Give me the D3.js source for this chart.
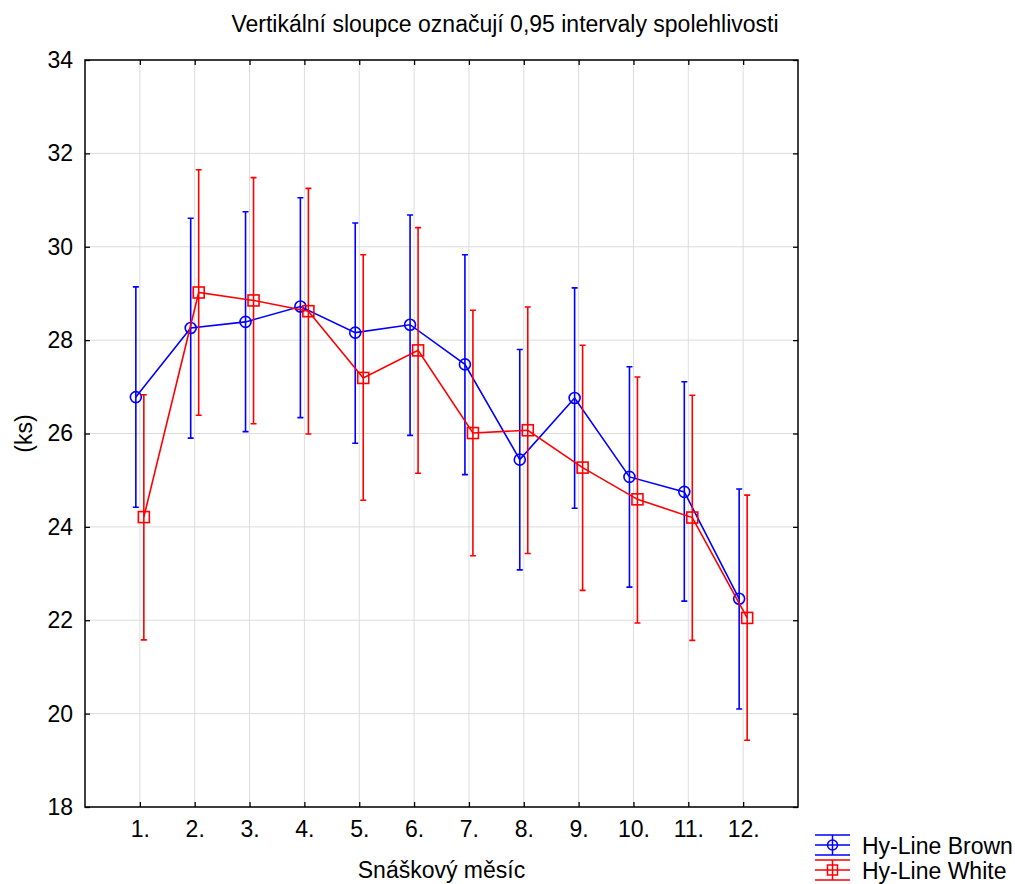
<!DOCTYPE html>
<html>
<head>
<meta charset="utf-8">
<script src="https://cdn.jsdelivr.net/npm/d3@7"></script>
<style>
    body { margin: 0; background: #fff; }
    text { font-family: "Liberation Sans", Arial, sans-serif; fill: #000; }
    .grid line { stroke: #dcdcdc; stroke-width: 1; }
</style>
</head>
<body>
<script>
// data
var months = ["1.", "2.", "3.", "4.", "5.", "6.", "7.", "8.", "9.", "10.", "11.", "12."];
var yTicks = [18, 20, 22, 24, 26, 28, 30, 32, 34];

var brownMean = [26.78, 28.26, 28.39, 28.72, 28.16, 28.33, 27.48, 25.44, 26.76, 25.07, 24.75, 22.46];
var brownLow  = [24.42, 25.90, 26.04, 26.34, 25.79, 25.96, 25.12, 23.08, 24.40, 22.71, 22.41, 20.10];
var brownHigh = [29.14, 30.61, 30.75, 31.05, 30.51, 30.68, 29.83, 27.80, 29.12, 27.43, 27.11, 24.81];

var whiteMean = [24.21, 29.02, 28.85, 28.62, 27.19, 27.78, 26.01, 26.07, 25.27, 24.59, 24.20, 22.05];
var whiteLow  = [21.58, 26.39, 26.21, 25.99, 24.57, 25.15, 23.38, 23.43, 22.64, 21.94, 21.57, 19.43];
var whiteHigh = [26.83, 31.65, 31.48, 31.25, 29.83, 30.41, 28.64, 28.71, 27.89, 27.21, 26.82, 24.68];

var seriesNames = ["Hy-Line Brown", "Hy-Line White"];

var width = 1015;
var height = 884;
// plot frame (not "top": that name is taken by window.top)
var pLeft = 85, pRight = 798, pTop = 60, pBottom = 807;
var fontSize = 23;

var svg = d3.select("body").append("svg")
    .attr("width", width)
    .attr("height", height);

var x = d3.scalePoint().domain(months).range([pLeft, pRight]).padding(1);
var y = d3.scaleLinear().domain([18, 34]).range([pBottom, pTop]);

//grid
var grid = svg.append("g").classed("grid", true);
grid.selectAll(".gx").data(months).enter().append("line")
    .attr("x1", function(d) { return x(d); })
    .attr("x2", function(d) { return x(d); })
    .attr("y1", pTop).attr("y2", pBottom);
grid.selectAll(".gy").data(yTicks).enter().append("line")
    .attr("x1", pLeft).attr("x2", pRight)
    .attr("y1", function(d) { return y(d); })
    .attr("y2", function(d) { return y(d); });

//axes, ticks pointing inward on all four sides
var axisStyle = function(g) {
    g.select(".domain").remove();
    g.selectAll("line").attr("stroke", "#000").attr("stroke-width", 1.3);
    g.selectAll("text").style("font-size", fontSize + "px")
        .style("font-family", "'Liberation Sans', Arial, sans-serif");
};

svg.append("g")
    .attr("transform", "translate(0," + pBottom + ")")
    .call(d3.axisBottom(x).tickSizeInner(-5).tickSizeOuter(0).tickPadding(14))
    .call(axisStyle);

svg.append("g")
    .attr("transform", "translate(0," + pTop + ")")
    .call(d3.axisTop(x).tickSizeInner(-5).tickSizeOuter(0).tickFormat(""))
    .call(axisStyle);

svg.append("g")
    .attr("transform", "translate(" + pLeft + ",0)")
    .call(d3.axisLeft(y).tickValues(yTicks).tickSizeInner(-5).tickSizeOuter(0).tickPadding(12))
    .call(axisStyle);

svg.append("g")
    .attr("transform", "translate(" + pRight + ",0)")
    .call(d3.axisRight(y).tickValues(yTicks).tickSizeInner(-5).tickSizeOuter(0).tickFormat(""))
    .call(axisStyle);

svg.append("rect")
    .attr("x", pLeft).attr("y", pTop)
    .attr("width", pRight - pLeft).attr("height", pBottom - pTop)
    .attr("fill", "none")
    .attr("stroke", "#000")
    .attr("stroke-width", 1.5);

//titles
svg.append("text")
    .text("Vertikální sloupce označují 0,95 intervaly spolehlivosti")
    .attr("x", 505).attr("y", 32)
    .attr("text-anchor", "middle")
    .style("font-size", fontSize + "px");

svg.append("text")
    .text("Snáškový měsíc")
    .attr("x", (pLeft + pRight) / 2).attr("y", 878)
    .attr("text-anchor", "middle")
    .style("font-size", fontSize + "px");

svg.append("text")
    .text("(ks)")
    .attr("transform", "translate(32," + (pTop + pBottom) / 2 + ") rotate(-90)")
    .attr("text-anchor", "middle")
    .style("font-size", fontSize + "px");

//series
var series = [
    {name: seriesNames[0], mean: brownMean, low: brownLow, high: brownHigh, color: "#0000ff", dx: -4, shape: "circle"},
    {name: seriesNames[1], mean: whiteMean, low: whiteLow, high: whiteHigh, color: "#ff0000", dx: 4, shape: "square"}
];

var cap = 3;
var mr = 5.5;

series.forEach(function(s) {
    var pts = months.map(function(m, i) {
        return {cx: x(m) + s.dx, mean: s.mean[i], low: s.low[i], high: s.high[i]};
    });
    var g = svg.append("g")
        .attr("stroke", s.color)
        .attr("stroke-width", 1.6)
        .attr("fill", "none");

    //error bars
    g.selectAll(".bar").data(pts).enter().append("path")
        .attr("d", function(d) {
            return "M" + d.cx + "," + y(d.low) + "V" + y(d.high) +
                "M" + (d.cx - cap) + "," + y(d.high) + "H" + (d.cx + cap) +
                "M" + (d.cx - cap) + "," + y(d.low) + "H" + (d.cx + cap);
        });

    g.append("path")
        .datum(pts)
        .attr("d", d3.line()
            .x(function(d) { return d.cx; })
            .y(function(d) { return y(d.mean); }));

    if (s.shape == "circle") {
        g.selectAll(".dots").data(pts).enter().append("circle")
            .attr("cx", function(d) { return d.cx; })
            .attr("cy", function(d) { return y(d.mean); })
            .attr("r", mr);
    } else {
        g.selectAll(".dots").data(pts).enter().append("rect")
            .attr("x", function(d) { return d.cx - mr; })
            .attr("y", function(d) { return y(d.mean) - mr; })
            .attr("width", mr * 2)
            .attr("height", mr * 2);
    }
});

//legend
var legend = svg.append("g").attr("transform", "translate(815,845)");
series.forEach(function(s, i) {
    var lg = legend.append("g")
        .attr("transform", "translate(0," + (i * 25) + ")");
    var sym = lg.append("g")
        .attr("stroke", s.color)
        .attr("stroke-width", 1.5)
        .attr("fill", "none");
    sym.append("path")
        .attr("d", "M0,-10H35M0,0H35M0,10H35M17.5,-10V10");
    if (s.shape == "circle") {
        sym.append("circle").attr("cx", 17.5).attr("cy", 0).attr("r", 5);
    } else {
        sym.append("rect").attr("x", 12.5).attr("y", -5).attr("width", 10).attr("height", 10);
    }
    lg.append("text")
        .text(s.name)
        .attr("x", 47).attr("y", 9)
        .style("font-size", fontSize + "px");
});
</script>
</body>
</html>
